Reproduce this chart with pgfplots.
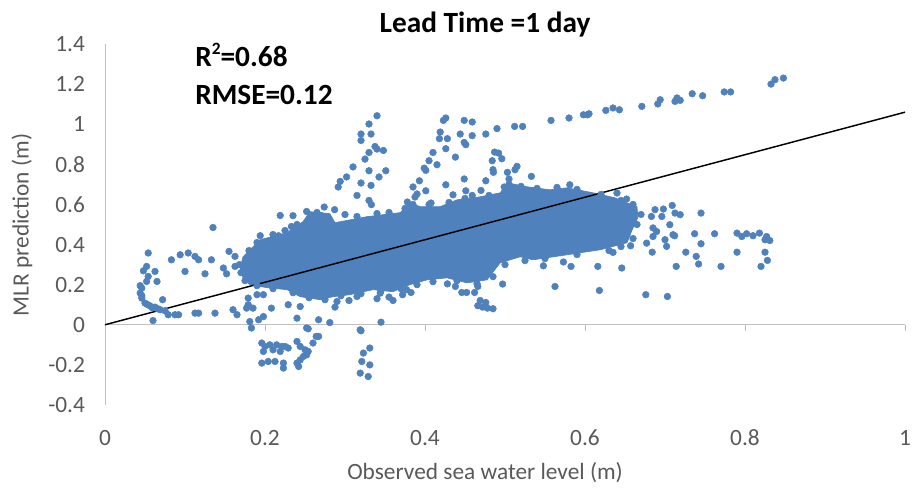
\documentclass[border=0pt]{standalone}
\usepackage{pgfplots}
\pgfplotsset{compat=1.18}
\usepackage{fontspec}
\setmainfont{Carlito}
\definecolor{xlblue}{RGB}{79,129,189}
\definecolor{lblgray}{RGB}{89,89,89}
\definecolor{axgray}{RGB}{191,191,191}
\begin{document}
\begin{tikzpicture}
\useasboundingbox (-78.75pt,-67.5pt) rectangle (605.25pt,303.75pt);
\draw[axgray, line width=0.75pt] (0,0) -- (0,270.75pt);
\draw[axgray, line width=0.75pt] (0,60pt) -- (600pt,60pt);
\foreach \i in {0,120,...,600} \draw[axgray, line width=0.75pt] (\i pt,60pt) -- (\i pt,55.5pt);
\begin{axis}[
  at={(0,0)}, anchor=south west, scale only axis,
  width=600pt, height=270.75pt,
  xmin=0, xmax=1, ymin=-0.4, ymax=1.4,
  axis line style={draw=none}, major tick length=0pt,
  xtick={0,0.2,0.4,0.6,0.8,1}, xticklabels={0,0.2,0.4,0.6,0.8,1},
  ytick={-0.4,-0.2,0,0.2,0.4,0.6,0.8,1,1.2,1.4},
  yticklabels={-0.4,-0.2,0,0.2,0.4,0.6,0.8,1,1.2,1.4},
  tick label style={font=\fontsize{17.5}{21}\selectfont, text=lblgray},
  xticklabel style={anchor=base, yshift=-30pt},
  yticklabel style={anchor=east, xshift=-11.5pt},
]
% dense core of the cloud
\addplot[draw=xlblue, fill=xlblue, line width=0.5pt, line join=round] coordinates {
(0.169,0.284) (0.1725,0.339) (0.194,0.424) (0.2275,0.459) (0.2475,0.514) (0.256,0.564)
(0.281,0.554) (0.2875,0.509) (0.3275,0.539) (0.369,0.559) (0.381,0.608) (0.394,0.589)
(0.419,0.589) (0.44,0.623) (0.469,0.638) (0.494,0.658) (0.5025,0.708) (0.5275,0.688)
(0.556,0.673) (0.5775,0.683) (0.61,0.658) (0.6375,0.633) (0.6525,0.608) (0.665,0.589)
(0.666,0.534) (0.659,0.474) (0.6525,0.409) (0.619,0.374) (0.5775,0.349) (0.535,0.324)
(0.519,0.339) (0.494,0.309) (0.4775,0.224) (0.4525,0.209) (0.4275,0.234) (0.4025,0.224)
(0.381,0.2) (0.36,0.165) (0.335,0.175) (0.306,0.15) (0.285,0.14) (0.269,0.125)
(0.244,0.14) (0.2275,0.175) (0.2025,0.185) (0.181,0.2) (0.1725,0.234)
} -- cycle;
% points along the edges of the cloud
\addplot[only marks, mark=*, mark size=2.5pt, color=xlblue] coordinates {
(0.18,0.37) (0.19,0.41) (0.21,0.45) (0.225,0.47) (0.24,0.5) (0.265,0.56) (0.27,0.545)
(0.3,0.55) (0.315,0.54) (0.34,0.555) (0.355,0.56) (0.375,0.58) (0.385,0.6) (0.405,0.6)
(0.43,0.61) (0.45,0.63) (0.46,0.625) (0.48,0.645) (0.505,0.7) (0.52,0.69) (0.54,0.68)
(0.565,0.685) (0.59,0.675) (0.62,0.65) (0.645,0.62) (0.66,0.6)
(0.175,0.22) (0.19,0.195) (0.21,0.18) (0.235,0.16) (0.255,0.135) (0.275,0.125)
(0.295,0.145) (0.32,0.155) (0.345,0.17) (0.37,0.18) (0.39,0.2) (0.41,0.215) (0.44,0.22)
(0.465,0.205) (0.485,0.24) (0.5,0.3) (0.525,0.32) (0.55,0.33) (0.59,0.35) (0.63,0.37)
(0.645,0.39) (0.66,0.43) (0.665,0.5) (0.67,0.55) (0.168,0.3) (0.17,0.26)
};
% scattered points
\addplot[only marks, mark=*, mark size=2.5pt, color=xlblue] coordinates {
(0.054,0.358) (0.052,0.291) (0.048,0.269) (0.0625,0.266) (0.054,0.241) (0.052,0.216)
(0.065,0.216) (0.046,0.183) (0.044,0.158) (0.046,0.133) (0.05,0.108) (0.056,0.095)
(0.0625,0.088) (0.069,0.075) (0.044,0.195) (0.046,0.145) (0.0525,0.102) (0.059,0.085)
(0.066,0.08) (0.075,0.07) (0.072,0.125) (0.06,0.021) (0.079,0.05) (0.0875,0.05)
(0.092,0.05) (0.1125,0.058) (0.117,0.058) (0.1375,0.058) (0.16,0.075) (0.165,0.05)
(0.083,0.324) (0.094,0.349) (0.104,0.358) (0.1125,0.341) (0.117,0.324) (0.1,0.266)
(0.125,0.254) (0.133,0.324) (0.135,0.485) (0.148,0.283) (0.152,0.254) (0.155,0.366)
(0.1625,0.341) (0.1625,0.291)
(0.179,0.133) (0.179,0.1) (0.177,0.083) (0.185,0.083) (0.19,0.15) (0.198,0.15)
(0.181,0.016) (0.183,-0.016) (0.192,0.025) (0.198,0.041) (0.208,0.083) (0.229,0.1)
(0.24,0.033) (0.244,0.091) (0.252,-0.016) (0.267,0.025) (0.254,-0.02) (0.264,-0.058)
(0.281,0.011) (0.2875,0.088) (0.29,0.116) (0.305,0.121) (0.315,0.141) (0.32,-0.03)
(0.34,0.13) (0.344,0.158) (0.345,0.013) (0.355,0.138) (0.36,0.121) (0.372,0.15)
(0.377,0.175) (0.3825,0.161) (0.428,0.204) (0.438,0.191) (0.446,0.161) (0.452,0.161)
(0.462,0.161) (0.466,0.191) (0.469,0.121) (0.466,0.095) (0.472,0.088) (0.476,0.111)
(0.478,0.083) (0.485,0.08) (0.497,0.203)
(0.196,-0.091) (0.2,-0.108) (0.198,-0.133) (0.206,-0.1) (0.21,-0.125) (0.2145,-0.1)
(0.221,-0.108) (0.225,-0.108) (0.219,-0.133) (0.229,-0.116) (0.24,-0.083) (0.244,-0.108)
(0.25,-0.125) (0.254,-0.133) (0.26,-0.091) (0.267,-0.058) (0.252,-0.15) (0.196,-0.191)
(0.204,-0.183) (0.2125,-0.183) (0.223,-0.191) (0.223,-0.216) (0.24,-0.191) (0.244,-0.175)
(0.248,-0.158) (0.242,-0.208)
(0.319,-0.025) (0.323,-0.141) (0.331,-0.116) (0.321,-0.183) (0.331,-0.2) (0.319,-0.241)
(0.329,-0.258)
(0.34,1.042) (0.33,1.001) (0.32,0.951) (0.32,0.919) (0.3325,0.951) (0.3375,0.889)
(0.34,0.876) (0.348,0.869) (0.33,0.859) (0.325,0.826) (0.31,0.787) (0.33,0.768)
(0.351,0.768) (0.302,0.737) (0.294,0.715) (0.2915,0.687) (0.32,0.707) (0.3325,0.695)
(0.3425,0.737) (0.315,0.645) (0.33,0.62) (0.333,0.599) (0.274,0.587) (0.287,0.574)
(0.252,0.565) (0.194,0.444) (0.217,0.444) (0.219,0.545) (0.235,0.544) (0.233,0.49)
(0.204,0.415)
(0.426,1.031) (0.423,1.019) (0.449,1.019) (0.459,1.011) (0.419,0.961) (0.418,0.928)
(0.428,0.928) (0.444,0.951) (0.459,0.943) (0.449,0.909) (0.451,0.898) (0.426,0.878)
(0.41,0.859) (0.405,0.818) (0.438,0.836) (0.415,0.798) (0.399,0.781) (0.401,0.77)
(0.393,0.718) (0.385,0.687) (0.39,0.652) (0.3875,0.637) (0.401,0.668) (0.378,0.612)
(0.4075,0.607) (0.426,0.698) (0.449,0.727) (0.435,0.648) (0.436,0.594) (0.451,0.668)
(0.459,0.645) (0.47,0.67) (0.476,0.951) (0.49,0.978) (0.512,0.989) (0.522,0.989)
(0.487,0.861) (0.492,0.856) (0.496,0.828) (0.484,0.818) (0.485,0.773) (0.4855,0.76)
(0.476,0.718) (0.499,0.687) (0.505,0.727) (0.503,0.76) (0.5125,0.773) (0.515,0.64)
(0.515,0.79) (0.533,0.74) (0.581,0.698)
(0.5575,1.019) (0.58,1.031) (0.598,1.047) (0.603,1.047) (0.605,1.052) (0.626,1.069)
(0.635,1.081) (0.643,1.072) (0.671,1.089) (0.691,1.101) (0.694,1.122) (0.7125,1.114)
(0.715,1.131) (0.719,1.119) (0.734,1.152) (0.747,1.142) (0.774,1.161) (0.782,1.161)
(0.8325,1.2) (0.8375,1.222) (0.848,1.23)
(0.652,0.627) (0.64,0.657) (0.6875,0.574) (0.698,0.577) (0.709,0.595) (0.7125,0.557)
(0.719,0.549) (0.745,0.557) (0.683,0.54) (0.696,0.54) (0.706,0.499) (0.6895,0.465)
(0.685,0.44) (0.712,0.444) (0.737,0.454) (0.762,0.454) (0.79,0.457) (0.796,0.44)
(0.802,0.454) (0.81,0.444) (0.818,0.457) (0.827,0.44) (0.831,0.42) (0.825,0.424)
(0.677,0.407) (0.7,0.424) (0.702,0.391) (0.745,0.404) (0.684,0.362) (0.726,0.362)
(0.739,0.341) (0.79,0.362) (0.825,0.362) (0.828,0.321) (0.714,0.291) (0.742,0.303)
(0.77,0.291) (0.82,0.291) (0.635,0.361) (0.646,0.283) (0.616,0.291) (0.5825,0.291)
(0.573,0.313) (0.5625,0.191) (0.618,0.171) (0.676,0.15) (0.703,0.141) (0.548,0.294)
(0.657,0.394) (0.685,0.483) (0.71,0.449)
};
% linear trend line
\addplot[black, line width=1.1pt] coordinates {(0,0) (1,1.06)};
\end{axis}
\node[anchor=base, font=\bfseries\fontsize{22}{26}\selectfont] at (285pt,279pt) {Lead Time =1 day};
\node[anchor=base west, inner sep=0pt, font=\bfseries\fontsize{22}{26}\selectfont] at (67.5pt,253.5pt) {R\raisebox{0.42em}{\fontsize{13}{13}\selectfont 2}=0.68};
\node[anchor=base west, inner sep=0pt, font=\bfseries\fontsize{22}{26}\selectfont] at (67.5pt,225pt) {RMSE=0.12};
\node[rotate=90, text=lblgray, font=\fontsize{17.5}{21}\selectfont] at (-62.25pt,135pt) {MLR prediction (m)};
\node[text=lblgray, font=\fontsize{17.5}{21}\selectfont] at (285pt,-51pt) {Observed sea water level (m)};
\end{tikzpicture}
\end{document}
